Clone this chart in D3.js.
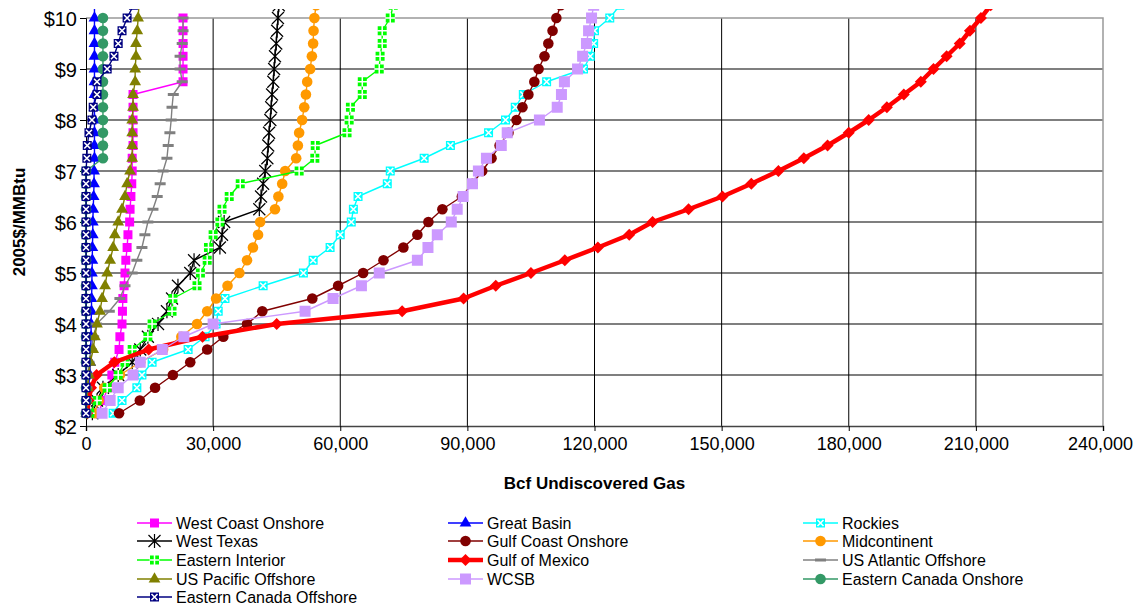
<!DOCTYPE html>
<meta charset="utf-8">
<script src="https://cdn.jsdelivr.net/npm/d3@7"></script>
<style>
	body{margin:0;background:#fff;font-family:Arial,"Liberation Sans",sans-serif;}
	svg text{font-family:Arial,"Liberation Sans",sans-serif;}
</style>
<div id="chart"></div>
<script>
// price steps (2005$/MMBtu) for every series
var prices = [2.25,2.5,2.75,3,3.25,3.5,3.75,4,4.25,4.5,4.75,5,5.25,5.5,5.75,6,6.25,6.5,6.75,7,7.25,7.5,7.75,8,8.25,8.5,8.75,9,9.25,9.5,9.75,10,10.25]

// Bcf undiscovered gas at each price
var westCoastOnshore = [3000,4000,5200,6100,6800,7800,8000,8500,8600,8700,9000,9200,9400,9700,9900,10300,10400,10600,10800,10900,10900,11100,11100,11100,11100,11100,22900,22900,22900,22900,22900,22900,null]
var greatBasin = [100,300,600,900,1000,1100,1200,1200,1300,1300,1400,1400,1500,1500,1600,1600,1700,1800,1900,1900,2000,2000,2000,2000,2000,2000,2000,2000,2000,2000,2000,2000,2000]
var rockies = [6400,8500,12000,13200,15600,24100,28100,30700,31200,32800,41800,51300,53600,57600,60000,62600,63100,64200,71100,71800,79800,86000,95000,99000,101300,103200,108700,117400,119000,119800,120000,123600,126000]
var westTexas = [1500,2600,4000,7600,10900,12800,14600,17000,19100,20300,21700,24600,25500,31600,32100,32600,40900,41300,41800,42300,42800,43000,43200,43500,43700,43900,44200,44400,44600,44900,45100,45300,45500]
var gulfCoastOnshore = [7800,12700,16300,20500,24600,28600,32400,38000,41600,53400,59500,65400,70200,74900,78200,80800,84100,88700,91200,93500,95700,97600,99700,101600,103000,104400,105800,106800,108200,109100,110100,111000,112000]
var midcontinent = [2100,3000,4300,8000,12800,18200,22500,26200,28600,30700,33400,36200,38000,39400,40600,41100,44600,45400,46300,47000,49600,50000,50300,51000,51500,51900,52200,52900,53300,53600,53700,53900,54300]
var easternInterior = [900,2600,5000,7600,9200,10900,14600,15600,20300,20500,26200,27000,28600,28900,30000,31600,32100,33800,36400,50300,54000,54100,61600,62100,62400,65200,65200,69200,69400,69900,69900,71800,72500]
var gulfOfMexico = [300,600,1200,2500,6700,14800,27500,45000,74600,89100,96700,105000,113000,120800,128200,133700,142200,150200,157000,163400,169400,175000,180000,184700,189000,193000,197000,200000,203100,206200,208600,211200,213500]
var usAtlanticOffshore = [50,100,200,400,700,1200,1800,2500,5500,8000,9200,10900,12000,13200,13900,14600,15800,16800,17500,18200,19100,19400,19800,20100,20300,20600,22700,22200,22200,22700,22900,22900,null]
var usPacificOffshore = [100,200,400,700,1000,1700,2100,2600,3300,3800,4500,5000,5700,6400,6800,7600,8500,9200,9700,10400,10900,10900,10900,10900,11100,11100,11600,11600,11800,11800,12100,12300,12500]
var wcsb = [3800,5700,7600,11100,12800,18000,23100,30000,51700,58300,65000,69200,78200,80700,82900,86200,87600,89000,91200,92600,94500,98000,99400,107000,111200,112200,112900,116000,117200,118100,118600,119300,119800]
var easternCanadaOnshore = [0,0,0,0,0,0,0,0,0,0,0,0,0,0,0,0,0,0,0,0,4000,4000,4000,4000,4000,4000,4000,4000,4000,4000,4000,4000,null]
var easternCanadaOffshore = [0,0,0,0,0,0,0,0,0,0,0,0,0,0,0,0,0,0,0,0,200,300,700,1400,1700,2600,2600,5000,6600,7600,8500,9700,11200]

var yTicks = [2,3,4,5,6,7,8,9,10]
var xTicks = [0,30000,60000,90000,120000,150000,180000,210000,240000]

// series in drawing order (same as legend order)
var series = [
	{name:"West Coast Onshore", values:westCoastOnshore, color:"#FF00FF", marker:"square"},
	{name:"Great Basin", values:greatBasin, color:"#0000FF", marker:"triangle"},
	{name:"Rockies", values:rockies, color:"#00FFFF", marker:"xsquare"},
	{name:"West Texas", values:westTexas, color:"#000000", marker:"star"},
	{name:"Gulf Coast Onshore", values:gulfCoastOnshore, color:"#800000", marker:"circle"},
	{name:"Midcontinent", values:midcontinent, color:"#FF9900", marker:"circle"},
	{name:"Eastern Interior", values:easternInterior, color:"#00FF00", marker:"plussquare"},
	{name:"Gulf of Mexico", values:gulfOfMexico, color:"#FF0000", marker:"diamond", wide:true},
	{name:"US Atlantic Offshore", values:usAtlanticOffshore, color:"#808080", marker:"dash"},
	{name:"US Pacific Offshore", values:usPacificOffshore, color:"#808000", marker:"triangle"},
	{name:"WCSB", values:wcsb, color:"#CC99FF", marker:"bigsquare"},
	{name:"Eastern Canada Onshore", values:easternCanadaOnshore, color:"#339966", marker:"circle"},
	{name:"Eastern Canada Offshore", values:easternCanadaOffshore, color:"#000080", marker:"xsquare"}
]

var width = 1136
var height = 606
// plot area edges (px)
var pLeft = 86, pRight = 1103, pTop = 18, pBottom = 426

var x = d3.scaleLinear().domain([0,240000]).range([pLeft,pRight])
var y = d3.scaleLinear().domain([2,10]).range([pBottom,pTop])

var svg = d3.select("#chart").append("svg")
	.attr("width",width)
	.attr("height",height)

svg.append("defs").append("clipPath").attr("id","clip")
	.append("rect").attr("x",0).attr("y",9).attr("width",width).attr("height",height)

// gridlines
svg.append("g").selectAll("line")
	.data(yTicks.slice(1,-1))
	.enter().append("line")
	.attr("x1",pLeft).attr("x2",pRight)
	.attr("y1",function(d){return y(d)}).attr("y2",function(d){return y(d)})
	.attr("stroke","#555").attr("stroke-width",1.3)

svg.append("g").selectAll("line")
	.data(xTicks.slice(1,-1))
	.enter().append("line")
	.attr("x1",function(d){return x(d)}).attr("x2",function(d){return x(d)})
	.attr("y1",pTop).attr("y2",pBottom)
	.attr("stroke","#000").attr("stroke-width",1)

// plot frame (top + right)
svg.append("path")
	.attr("d","M"+pLeft+","+pTop+"H"+pRight+"V"+pBottom)
	.attr("fill","none").attr("stroke","#999").attr("stroke-width",1.5)

// axes
var yAxis = svg.append("g")
	.attr("transform","translate("+pLeft+",0)")
	.call(d3.axisLeft(y).tickValues(yTicks).tickSize(6).tickPadding(3).tickFormat(function(d){return "$"+d}))
yAxis.selectAll("text").attr("font-size","20px").attr("fill","#000").attr("dy","0.36em")
yAxis.selectAll("line").attr("stroke","#000")
yAxis.select(".domain").attr("stroke","#000")

var xAxis = svg.append("g")
	.attr("transform","translate(0,"+pBottom+")")
	.call(d3.axisBottom(x).tickValues(xTicks).tickSize(5).tickPadding(6).tickFormat(d3.format(",")))
xAxis.selectAll("text").attr("font-size","18px").attr("fill","#000")
	.attr("dx",function(d){return d==240000 ? "-3" : null})
xAxis.selectAll("line").attr("stroke","#000")
xAxis.select(".domain").attr("stroke","#444").attr("stroke-width",1.5)

// axis titles
svg.append("text")
	.attr("x",(pLeft+pRight)/2).attr("y",489)
	.attr("text-anchor","middle")
	.attr("font-size","17px").attr("font-weight","bold")
	.text("Bcf Undiscovered Gas")

svg.append("text")
	.attr("transform","translate(25,"+(pTop+pBottom)/2+") rotate(-90)")
	.attr("text-anchor","middle")
	.attr("font-size","17px").attr("font-weight","bold")
	.text("2005$/MMBtu")

// draw one marker into a group
function drawMarker(g,s){
	var c = s.color
	if(s.marker=="square"){
		g.append("rect").attr("x",-4.5).attr("y",-4.5).attr("width",9).attr("height",9).attr("fill",c)
	}else if(s.marker=="bigsquare"){
		g.append("rect").attr("x",-5.5).attr("y",-5.5).attr("width",11).attr("height",11).attr("fill",c)
	}else if(s.marker=="triangle"){
		g.append("path").attr("d",d3.symbol().type(d3.symbolTriangle).size(60)).attr("fill",c)
	}else if(s.marker=="circle"){
		g.append("circle").attr("r",5.3).attr("fill",c)
	}else if(s.marker=="diamond"){
		g.append("path").attr("d","M0,-6L6,0L0,6L-6,0Z").attr("fill",c)
	}else if(s.marker=="xsquare"){
		g.append("rect").attr("x",-4.5).attr("y",-4.5).attr("width",9).attr("height",9).attr("fill",c)
		g.append("path").attr("d","M-3,-3L3,3M-3,3L3,-3").attr("stroke","#fff").attr("stroke-width",1.6)
	}else if(s.marker=="plussquare"){
		g.append("rect").attr("x",-4.5).attr("y",-4.5).attr("width",9).attr("height",9).attr("fill",c)
		g.append("path").attr("d","M0,-5V5M-5,0H5").attr("stroke","#fff").attr("stroke-width",1.5)
	}else if(s.marker=="star"){
		g.append("path").attr("d","M-6,-6L6,6M-6,6L6,-6M0,-7V7").attr("stroke",c).attr("stroke-width",1.2).attr("fill","none")
	}else if(s.marker=="dash"){
		g.append("rect").attr("x",-5.5).attr("y",-1.5).attr("width",11).attr("height",3).attr("fill",c)
	}
}

var plot = svg.append("g").attr("clip-path","url(#clip)")

series.forEach(function(s){
	var pts = []
	for(var i=0;i<prices.length;i++){
		if(s.values[i]!=null) pts.push([s.values[i],prices[i]])
	}
	var line = d3.line().x(function(d){return x(d[0])}).y(function(d){return y(d[1])})
	var g = plot.append("g")
	g.append("path")
		.datum(pts)
		.attr("d",line)
		.attr("fill","none")
		.attr("stroke",s.color)
		.attr("stroke-width",s.wide?4.5:1.4)
		.attr("stroke-linejoin","round")
	g.selectAll("g.m")
		.data(pts)
		.enter().append("g")
		.attr("class","m")
		.attr("transform",function(d){return "translate("+x(d[0])+","+y(d[1])+")"})
		.each(function(){drawMarker(d3.select(this),s)})
})

// legend, 3 columns
var legendCols = [137,448,803]
var legendRows = [523,541,560,579,597]
series.forEach(function(s,i){
	var lx = legendCols[i%3]
	var ly = legendRows[Math.floor(i/3)]
	var g = svg.append("g").attr("transform","translate("+lx+","+ly+")")
	g.append("line").attr("x1",0).attr("x2",35).attr("y1",0).attr("y2",0)
		.attr("stroke",s.color).attr("stroke-width",s.wide?4.5:1.4)
	drawMarker(g.append("g").attr("transform","translate(17.5,0)"),s)
	g.append("text").attr("x",39).attr("y",0).attr("dy","0.36em")
		.attr("font-size","16px").attr("fill","#000")
		.text(s.name)
})
</script>
